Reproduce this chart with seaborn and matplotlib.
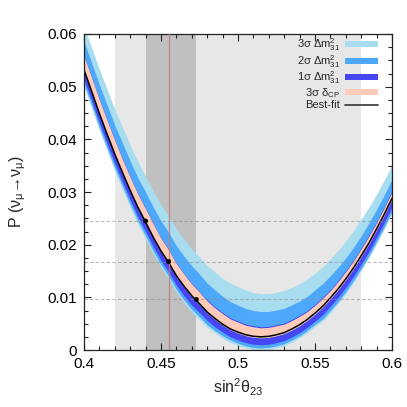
import numpy as np
import pandas as pd
import matplotlib
matplotlib.use("Agg")
import matplotlib.pyplot as plt
from matplotlib.patches import Patch
from matplotlib.lines import Line2D
from matplotlib.ticker import MultipleLocator, FuncFormatter
import seaborn as sns

# ---------------- data ----------------
sin2_theta23 = [0.400, 0.405, 0.410, 0.415, 0.420, 0.425, 0.430, 0.435, 0.440, 0.445,
                0.450, 0.455, 0.460, 0.465, 0.470, 0.475, 0.480, 0.485, 0.490, 0.495,
                0.500, 0.505, 0.510, 0.515, 0.520, 0.525, 0.530, 0.535, 0.540, 0.545,
                0.550, 0.555, 0.560, 0.565, 0.570, 0.575, 0.580, 0.585, 0.590, 0.595, 0.600]
best_fit = [0.0532, 0.0491, 0.0449, 0.0410, 0.0372, 0.0337, 0.0303, 0.0271, 0.0243, 0.0214,
            0.0188, 0.0166, 0.0141, 0.0121, 0.0103, 0.0088, 0.0072, 0.0060, 0.0049, 0.0040,
            0.0034, 0.0029, 0.0026, 0.0025, 0.0026, 0.0029, 0.0033, 0.0040, 0.0048, 0.0058,
            0.0070, 0.0083, 0.0099, 0.0116, 0.0135, 0.0156, 0.0179, 0.0203, 0.0230, 0.0258, 0.0288]
# band edges given as distance above / below the best-fit curve
up_3sig = [0.0082, 0.0083, 0.0084, 0.0085, 0.0085, 0.0086, 0.0086, 0.0087, 0.0087, 0.0088,
           0.0088, 0.0088, 0.0089, 0.0089, 0.0089, 0.0089, 0.0088, 0.0088, 0.0087, 0.0087,
           0.0086, 0.0085, 0.0083, 0.0082, 0.0081, 0.0081, 0.0080, 0.0079, 0.0078, 0.0077,
           0.0076, 0.0075, 0.0074, 0.0073, 0.0072, 0.0071, 0.0070, 0.0068, 0.0066, 0.0065, 0.0063]
up_2sig = [0.0054, 0.0054, 0.0055, 0.0055, 0.0055, 0.0056, 0.0056, 0.0056, 0.0057, 0.0057,
           0.0057, 0.0057, 0.0057, 0.0057, 0.0057, 0.0056, 0.0055, 0.0054, 0.0053, 0.0052,
           0.0051, 0.0050, 0.0049, 0.0048, 0.0047, 0.0047, 0.0046, 0.0046, 0.0045, 0.0044,
           0.0044, 0.0043, 0.0042, 0.0041, 0.0040, 0.0039, 0.0038, 0.0038, 0.0037, 0.0037, 0.0036]
up_1sig = [0.0027, 0.0027, 0.0027, 0.0027, 0.0027, 0.0026, 0.0026, 0.0026, 0.0026, 0.0026,
           0.0025, 0.0025, 0.0024, 0.0024, 0.0023, 0.0023, 0.0023, 0.0022, 0.0022, 0.0021,
           0.0021, 0.0020, 0.0020, 0.0019, 0.0019, 0.0019, 0.0018, 0.0018, 0.0018, 0.0017,
           0.0017, 0.0017, 0.0016, 0.0016, 0.0016, 0.0015, 0.0015, 0.0015, 0.0014, 0.0014, 0.0014]
up_dcp = [0.0026, 0.0026, 0.0026, 0.0026, 0.0026, 0.0025, 0.0025, 0.0025, 0.0025, 0.0025,
          0.0024, 0.0024, 0.0023, 0.0023, 0.0022, 0.0022, 0.0021, 0.0020, 0.0020, 0.0019,
          0.0019, 0.0018, 0.0018, 0.0017, 0.0017, 0.0017, 0.0016, 0.0016, 0.0016, 0.0015,
          0.0015, 0.0015, 0.0014, 0.0014, 0.0014, 0.0013, 0.0013, 0.0013, 0.0012, 0.0012, 0.0012]
dn_dcp = [0.0002] * 41
dn_1sig = [0.0018] * 15 + [0.0017, 0.0016, 0.0016, 0.0015, 0.0015] + [0.0015] * 11 + [0.0016] * 10
dn_2sig = [0.0026] * 15 + [0.0025, 0.0024, 0.0023, 0.0022, 0.0021] + [0.0021] * 11 + [0.0024] * 10
dn_3sig = [0.0032] * 15 + [0.0030, 0.0029, 0.0028, 0.0027, 0.0026] + [0.0025] * 11 + [0.0028] * 10

theta_range_3sig = [0.42, 0.58]
theta_range_1sig = [0.44, 0.473]
theta_bestfit = 0.455
marked_theta = [0.44, 0.455, 0.473]
marked_prob = [0.0245, 0.0168, 0.0096]

legend_labels = ['3σ Δm$^2_{31}$', '2σ Δm$^2_{31}$', '1σ Δm$^2_{31}$', '3σ δ$_{\\rm CP}$', 'Best-fit']

# ---------------- style ----------------
sns.set_style("ticks")
plt.rcParams['font.family'] = ['Liberation Sans', 'DejaVu Sans']
plt.rcParams['mathtext.default'] = 'regular'
plt.rcParams['mathtext.fontset'] = 'custom'
plt.rcParams['mathtext.rm'] = 'Liberation Sans'
plt.rcParams['mathtext.it'] = 'Liberation Sans'

c_3sig = '#a8dcef'
c_2sig = '#4da8fb'
c_1sig = '#4646f4'
c_dcp = '#fdcbb8'

df = pd.DataFrame({'x': sin2_theta23, 'p': best_fit})
x = np.array(sin2_theta23)
b = np.array(best_fit)

fig = plt.figure(figsize=(4.07, 4.07), dpi=100)
ax = fig.add_axes([84 / 407, 57 / 407, 308 / 407, 316 / 407])

ax.axvspan(*theta_range_3sig, color='#e7e7e7', lw=0, zorder=0)
ax.axvspan(*theta_range_1sig, color='#c0c0c0', lw=0, zorder=0.5)

ax.fill_between(x, b - np.array(dn_3sig), b + np.array(up_3sig), color=c_3sig, lw=0, zorder=1)
ax.fill_between(x, b - np.array(dn_2sig), b + np.array(up_2sig), color=c_2sig, lw=0, zorder=1.1)
ax.fill_between(x, b - np.array(dn_1sig), b + np.array(up_1sig), color=c_1sig, lw=0, zorder=1.2)
ax.fill_between(x, b - np.array(dn_dcp), b + np.array(up_dcp), color=c_dcp, lw=0, zorder=1.3)

sns.lineplot(data=df, x='x', y='p', color='black', lw=1.1, ax=ax, zorder=2)

for p in marked_prob:
    ax.axhline(p, color='#8c8c8c', lw=0.8, ls=(0, (3, 2)), alpha=0.6, zorder=2.5)
ax.axvline(theta_bestfit, color='#c07a7a', lw=1.0, alpha=0.8, zorder=2.6)
sns.scatterplot(x=marked_theta, y=marked_prob, color='black', s=12, edgecolor='none', ax=ax, zorder=3)

ax.set_xlim(0.4, 0.6)
ax.set_ylim(0, 0.06)
ax.xaxis.set_major_locator(MultipleLocator(0.05))
ax.xaxis.set_minor_locator(MultipleLocator(0.01))
ax.yaxis.set_major_locator(MultipleLocator(0.01))
ax.yaxis.set_minor_locator(MultipleLocator(0.0025))
fmt = FuncFormatter(lambda v, pos: ('%g' % round(v, 4)))
ax.xaxis.set_major_formatter(fmt)
ax.yaxis.set_major_formatter(fmt)
ax.tick_params(which='both', direction='in', top=True, right=True, colors='#222222',
               labelcolor='black', labelsize=11)
ax.tick_params(which='major', length=5, width=0.8, pad=5)
ax.tick_params(which='minor', length=3, width=0.8)
for s in ax.spines.values():
    s.set_linewidth(0.9)
    s.set_color('#222222')

ax.set_xlabel('sin$^2$θ$_{23}$', fontsize=11.5, labelpad=4)
ax.set_ylabel('P (ν$_μ$→ν$_μ$)', fontsize=11.5, labelpad=14)

handles = [Patch(facecolor=c_3sig, edgecolor='none'),
           Patch(facecolor=c_2sig, edgecolor='none'),
           Patch(facecolor=c_1sig, edgecolor='none'),
           Patch(facecolor=c_dcp, edgecolor='none'),
           Line2D([], [], color='#333333', lw=1.2)]
leg = ax.legend(handles, legend_labels, loc='upper right', bbox_to_anchor=(0.968, 1.008),
                frameon=False, markerfirst=False, fontsize=8, handlelength=2.9,
                handleheight=0.45, labelspacing=0.0, handletextpad=0.5, borderaxespad=0.0)

fig.savefig('out.png', dpi=100)
